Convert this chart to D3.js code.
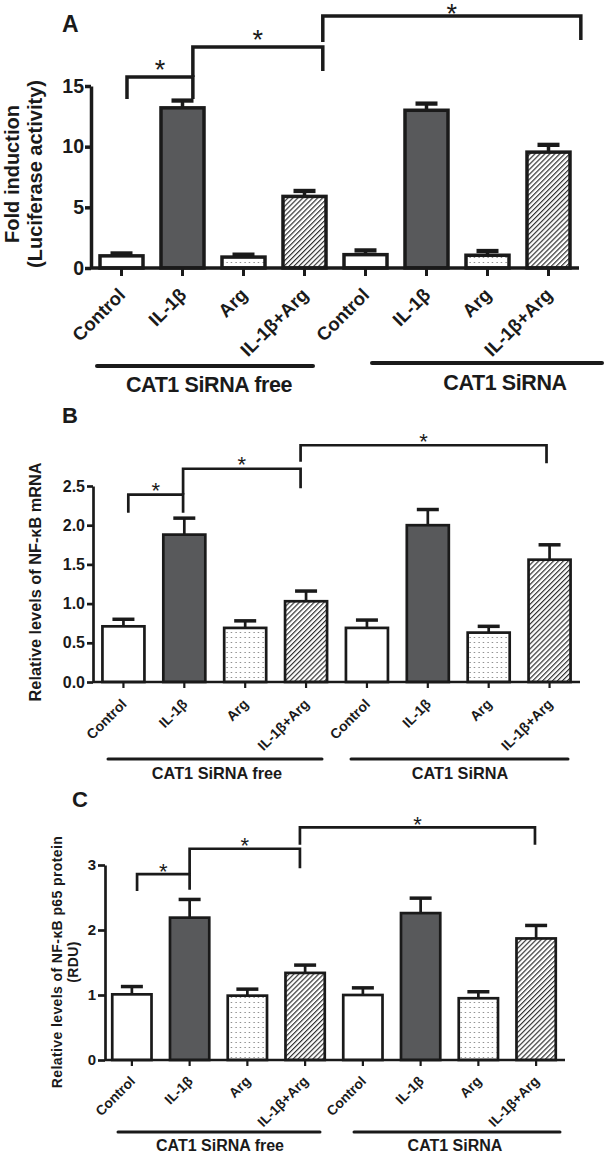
<!DOCTYPE html>
<html><head><meta charset="utf-8">
<script src="https://cdn.jsdelivr.net/npm/d3@7"></script>
<style>
body{margin:0;background:#fff}
svg{display:block}
text{font-family:Arial,"Liberation Sans",sans-serif}
</style>
</head><body>
<svg id="chart" width="605" height="1157"></svg>
<script>
// ---------- DATA ----------
const categories = ["Control","IL-1β","Arg","IL-1β+Arg","Control","IL-1β","Arg","IL-1β+Arg"];
const groups = ["CAT1 SiRNA free","CAT1 SiRNA"];

// Panel A: luciferase fold induction
const luciferaseMeans = [1.0, 13.2, 0.9, 5.9, 1.1, 13.0, 1.05, 9.55];
const luciferaseErrs  = [0.2, 0.6, 0.2, 0.45, 0.35, 0.55, 0.35, 0.6];
const luciferaseTicks = [0, 5, 10, 15];
const luciferaseBrackets = [
  {from:0.09, to:1.17, y:15.75, l:13.93, r:13.93},
  {from:1.17, to:3.30, y:18.22, l:15.75, r:16.24},
  {from:3.30, to:7.53, y:20.77, l:18.63, r:18.8}
];

// Panel B: NF-kB mRNA
const mrnaMeans = [0.71, 1.88, 0.69, 1.03, 0.69, 2.0, 0.63, 1.56];
const mrnaErrs  = [0.09, 0.21, 0.09, 0.13, 0.1, 0.2, 0.08, 0.19];
const mrnaTicks = [0, 0.5, 1.0, 1.5, 2.0, 2.5];
const mrnaBrackets = [
  {from:0.08, to:0.98, y:2.39, l:2.16, r:2.16},
  {from:0.98, to:2.91, y:2.72, l:2.39, r:2.47},
  {from:2.91, to:6.95, y:3.02, l:2.81, r:2.79}
];

// Panel C: NF-kB p65 protein
const proteinMeans = [1.01, 2.19, 0.99, 1.34, 1.0, 2.26, 0.95, 1.87];
const proteinErrs  = [0.12, 0.28, 0.1, 0.12, 0.11, 0.23, 0.1, 0.2];
const proteinTicks = [0, 1, 2, 3];
const proteinBrackets = [
  {from:0.09, to:1.0, y:2.86, l:2.6, r:2.62},
  {from:1.0, to:2.91, y:3.25, l:2.86, r:2.95},
  {from:2.91, to:6.98, y:3.58, l:3.31, r:3.31}
];

// ---------- DRAWING ----------
const svg = d3.select("#chart");
const defs = svg.append("defs");
const dp = defs.append("pattern").attr("id","dots").attr("patternUnits","userSpaceOnUse")
  .attr("width",4.5).attr("height",5);
dp.append("rect").attr("width",4.5).attr("height",5).attr("fill","#fff");
dp.append("circle").attr("cx",2).attr("cy",2.5).attr("r",0.6).attr("fill","#444");
const hp = defs.append("pattern").attr("id","hatch").attr("patternUnits","userSpaceOnUse")
  .attr("width",3.5).attr("height",3.5).attr("patternTransform","rotate(45)");
hp.append("rect").attr("width",3.5).attr("height",3.5).attr("fill","#fff");
hp.append("line").attr("x1",0.6).attr("y1",0).attr("x2",0.6).attr("y2",3.5)
  .attr("stroke","#222").attr("stroke-width",1.1);

const fills = ["#fff", "#58595b", "url(#dots)", "url(#hatch)"];

function drawPanel(cfg, means, errs, ticks, brackets) {
  const g = svg.append("g");
  const x = d3.scaleBand().domain(d3.range(categories.length))
    .range([cfg.bx0, cfg.bx1]).paddingInner(cfg.pad).paddingOuter(cfg.pad/2);
  const y = d3.scaleLinear().domain([0, d3.max(ticks)]).range([cfg.y0, cfg.yTop]);
  const bw = x.bandwidth();
  const xi = d3.scaleLinear().domain([0, categories.length-1])
    .range([x(0)+bw/2, x(categories.length-1)+bw/2]);
  const sw = cfg.sw;

  // error bars (upper only)
  const eb = g.append("g").attr("stroke","#1a1a1a");
  means.forEach((m,i)=>{
    const cx = x(i)+bw/2;
    eb.append("line").attr("x1",cx).attr("x2",cx).attr("y1",y(m)).attr("y2",y(m+errs[i]))
      .attr("stroke-width",sw);
    eb.append("line").attr("x1",cx-cfg.cap/2).attr("x2",cx+cfg.cap/2)
      .attr("y1",y(m+errs[i])).attr("y2",y(m+errs[i])).attr("stroke-width",sw+0.8);
  });

  // bars
  g.append("g").selectAll("rect").data(means).join("rect")
    .attr("x",(d,i)=>x(i)).attr("width",bw)
    .attr("y",d=>y(d)).attr("height",d=>y(0)-y(d))
    .attr("fill",(d,i)=>fills[i%4]).attr("stroke","#1a1a1a").attr("stroke-width",sw);

  // y axis
  const ya = g.append("g").attr("transform",`translate(${cfg.ax},0)`)
    .call(d3.axisLeft(y).tickValues(ticks).tickSize(cfg.tick).tickSizeOuter(0)
      .tickPadding(cfg.tickPad).tickFormat(cfg.fmt));
  ya.select(".domain").attr("stroke","#1a1a1a").attr("stroke-width",sw);
  ya.selectAll(".tick line").attr("stroke","#1a1a1a").attr("stroke-width",sw);
  ya.selectAll(".tick text").attr("font-size",cfg.tickFont).attr("font-weight","bold")
    .attr("fill","#1a1a1a").attr("font-family",'Arial,"Liberation Sans",sans-serif');

  // x axis
  const xa = g.append("g").attr("transform",`translate(0,${cfg.y0})`)
    .call(d3.axisBottom(x).tickSize(cfg.xtick).tickSizeOuter(0).tickFormat(""));
  xa.select(".domain").attr("d",`M${cfg.ax},0H${cfg.axEnd}`)
    .attr("stroke","#1a1a1a").attr("stroke-width",sw);
  xa.selectAll(".tick line").attr("stroke","#1a1a1a").attr("stroke-width",sw-0.5);

  // x labels
  g.append("g").selectAll("text").data(categories).join("text")
    .attr("transform",(d,i)=>`translate(${x(i)+bw/2+cfg.ldx},${cfg.y0+cfg.ldy}) rotate(-45)`)
    .attr("text-anchor","end").attr("font-size",cfg.labFont).attr("font-weight","bold")
    .attr("fill","#1a1a1a").text(d=>d);

  // y title
  cfg.title.forEach((t,k)=>{
    g.append("text").attr("transform",`translate(${cfg.titleX[k]},${cfg.titleY}) rotate(-90)`)
      .attr("text-anchor","middle").attr("font-size",cfg.titleFont).attr("font-weight","bold")
      .attr("letter-spacing",cfg.titleLS||0).attr("fill","#1a1a1a").text(t);
  });

  // panel letter
  g.append("text").attr("x",cfg.letterX).attr("y",cfg.letterY).attr("font-size",cfg.letterFont)
    .attr("font-weight","bold").attr("fill","#1a1a1a").text(cfg.letter);

  // brackets
  const bg = g.append("g");
  brackets.forEach(b=>{
    const x1 = xi(b.from), x2 = xi(b.to);
    bg.append("path").attr("d",`M${x1},${y(b.l)}V${y(b.y)}H${x2}V${y(b.r)}`)
      .attr("fill","none").attr("stroke","#1a1a1a").attr("stroke-width",sw);
    const cy = Math.max(y(b.y)-cfg.starGap, cfg.starMin);
    bg.append("text").attr("x",(x1+x2)/2).attr("y",cy+cfg.starFont*0.573)
      .attr("text-anchor","middle").attr("font-size",cfg.starFont).attr("fill","#1a1a1a").text("*");
  });

  // group lines and labels
  groups.forEach((gr,k)=>{
    const L = cfg.glines[k];
    g.append("line").attr("x1",L[0]).attr("x2",L[1]).attr("y1",L[2]).attr("y2",L[2])
      .attr("stroke","#1a1a1a").attr("stroke-width",cfg.gsw).attr("stroke-linecap","round");
    g.append("text").attr("x",cfg.glabels[k][0]).attr("y",cfg.glabels[k][1])
      .attr("text-anchor","middle").attr("font-size",cfg.gFont).attr("font-weight","bold")
      .attr("fill","#1a1a1a").attr("letter-spacing",cfg.gLS||0).text(gr);
  });
}

drawPanel({
  letter:"A", letterX:62, letterY:32, letterFont:23,
  bx0:91, bx1:579, pad:0.295, ax:91, axEnd:579, y0:268, yTop:86, sw:3.5, cap:22,
  tick:6, tickPad:1, tickFont:19.5, fmt:d3.format("d"), xtick:8,
  ldx:5, ldy:28, labFont:18.5,
  title:["Fold induction","(Luciferase activity)"], titleX:[19,42], titleY:174, titleFont:20,
  starGap:13, starMin:8, starFont:27,
  glines:[[97,313,366],[372,602,363]], gsw:4, glabels:[[209,392],[505,390]], gFont:21.5, gLS:-0.4
}, luciferaseMeans, luciferaseErrs, luciferaseTicks, luciferaseBrackets);

drawPanel({
  letter:"B", letterX:62, letterY:423, letterFont:22,
  bx0:93, bx1:580, pad:0.31, ax:93, axEnd:580, y0:682, yTop:486, sw:2.7, cap:22,
  tick:6, tickPad:2, tickFont:16, fmt:d3.format(".1f"), xtick:6,
  ldx:4, ldy:23, labFont:14,
  title:["Relative levels of NF-κB mRNA"], titleX:[41], titleY:582, titleFont:16.3,
  starGap:9, starMin:0, starFont:22,
  glines:[[108,322,759],[351,568,759]], gsw:3, glabels:[[217,779],[460,779]], gFont:16.3
}, mrnaMeans, mrnaErrs, mrnaTicks, mrnaBrackets);

drawPanel({
  letter:"C", letterX:72, letterY:807, letterFont:22,
  bx0:103, bx1:565, pad:0.32, ax:105, axEnd:565, y0:1060, yTop:865, sw:2.7, cap:22,
  tick:7, tickPad:2, tickFont:15, fmt:d3.format("d"), xtick:6,
  ldx:4, ldy:22, labFont:13.8,
  title:["Relative levels of NF-κB p65 protein","(RDU)"], titleX:[62,78], titleY:962, titleFont:14, titleLS:0.4,
  starGap:8, starMin:0, starFont:22,
  glines:[[118,320,1132],[354,560,1132]], gsw:3, glabels:[[220,1151],[455,1151]], gFont:16
}, proteinMeans, proteinErrs, proteinTicks, proteinBrackets);
</script>
</body></html>
